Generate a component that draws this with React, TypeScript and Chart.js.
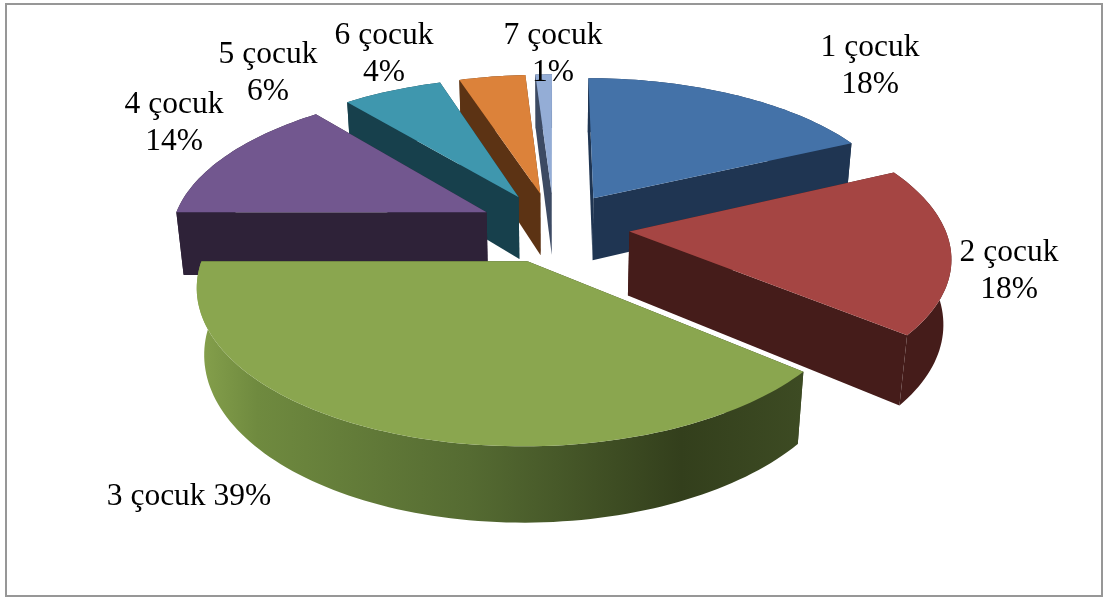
import React, { useEffect, useRef } from "react";
import { Chart, registerables } from "chart.js";

Chart.register(...registerables);

const categories = ["1 çocuk", "2 çocuk", "3 çocuk", "4 çocuk", "5 çocuk", "6 çocuk", "7 çocuk"];
const percentages = [18, 18, 39, 14, 6, 4, 1];
const topColors = ["#4472a8", "#a54543", "#8aa64f", "#72578f", "#3f97ae", "#dc823a", "#94add6"];
const sideColors = ["#1f3552", "#451c1a", "#56692f", "#2e2238", "#17404c", "#5c3314", "#3c4a63"];

// Where each caption sits on the canvas: centre x and first-line baseline.
const captionSpots: [number, number, boolean][] = [
  [870, 56, false],
  [1009, 261, false],
  [189, 505, true],
  [174, 113, false],
  [268, 63, false],
  [384, 44, false],
  [553, 44, false],
];

const W = 1107;
const H = 597;

// Oblique perspective used to lay the flat pie down on a tilted plane.
const view = { cx: 554, cy: 227, rx: 315, ry: 146, depth: 65, a: 0.15, b: 0.02, near: 0.04 };

type P = [number, number];
function project(X: number, Y: number, z: number): P {
  const p = 1 / (1 - view.a * Y + view.b * z);
  const thickness = view.depth * z * (1 + view.near * Y);
  return [view.cx + view.rx * X * p, view.cy + (view.ry * Y + thickness) * p];
}

function trace(ctx: CanvasRenderingContext2D, pts: P[]) {
  ctx.beginPath();
  pts.forEach((q, i) => (i ? ctx.lineTo(q[0], q[1]) : ctx.moveTo(q[0], q[1])));
  ctx.closePath();
}

const pie3d = {
  id: "pie3d",
  beforeDatasetsDraw(chart: any) {
    const { ctx } = chart;
    ctx.save();
    ctx.fillStyle = "#ffffff";
    ctx.fillRect(0, 0, W, H);
    ctx.strokeStyle = "#979797";
    ctx.lineWidth = 2;
    ctx.strokeRect(6, 4, 1096, 592);

    const arcs = chart.getDatasetMeta(0).data;
    const slices = arcs.map((arc: any, i: number) => {
      const R = arc.outerRadius;
      const mid = (arc.startAngle + arc.endAngle) / 2;
      const off = (arc.options.offset || 0) / R;
      const ox = Math.cos(mid) * off;
      const oy = Math.sin(mid) * off;
      const steps = Math.max(6, Math.round((arc.endAngle - arc.startAngle) * 40));
      const rim: [number, number][] = [];
      for (let s = 0; s <= steps; s++) {
        const t = arc.startAngle + ((arc.endAngle - arc.startAngle) * s) / steps;
        rim.push([ox + Math.cos(t), oy + Math.sin(t)]);
      }
      return { i, ox, oy, rim, sortY: oy + Math.sin(mid) * 0.5 };
    });

    // Paint from the back of the tilted plane to the front.
    slices.sort((a: any, b: any) => a.sortY - b.sortY);
    for (const s of slices) {
      const top = s.rim.map((q: [number, number]) => project(q[0], q[1], 0));
      const bot = s.rim.map((q: [number, number]) => project(q[0], q[1], 1));
      const aT = project(s.ox, s.oy, 0);
      const aB = project(s.ox, s.oy, 1);
      const n = top.length - 1;
      const walls = [
        { pts: [aT, top[0], bot[0], aB], key: (aT[1] + top[0][1]) / 2, rim: false },
        { pts: [aT, top[n], bot[n], aB], key: (aT[1] + top[n][1]) / 2, rim: false },
        { pts: [...top, ...[...bot].reverse()], key: top[Math.floor(n / 2)][1], rim: true },
      ].sort((p, q) => p.key - q.key);
      for (const w of walls) {
        trace(ctx, w.pts as P[]);
        if (w.rim && s.i === 2) {
          // The big front slice catches light on its left flank.
          const g = ctx.createLinearGradient(197, 0, 802, 0);
          g.addColorStop(0, "#86a14c");
          g.addColorStop(0.1, "#6f8a3f");
          g.addColorStop(0.45, "#556b32");
          g.addColorStop(0.8, "#333f1c");
          g.addColorStop(1, "#3d4b23");
          ctx.fillStyle = g;
        } else {
          ctx.fillStyle = s.i === 2 ? "#333f1d" : sideColors[s.i];
        }
        ctx.fill();
      }
      trace(ctx, [aT, ...top]);
      ctx.fillStyle = topColors[s.i];
      ctx.fill();
    }
    ctx.restore();
    return false;
  },
  afterDraw(chart: any) {
    const { ctx } = chart;
    ctx.save();
    ctx.fillStyle = "#000000";
    ctx.font = '31.5px "Liberation Serif"';
    ctx.textAlign = "center";
    ctx.textBaseline = "alphabetic";
    categories.forEach((c, i) => {
      const [x, y, oneLine] = captionSpots[i];
      if (oneLine) {
        ctx.fillText(`${c} ${percentages[i]}%`, x, y);
      } else {
        ctx.fillText(c, x, y);
        ctx.fillText(`${percentages[i]}%`, x, y + 37);
      }
    });
    ctx.restore();
  },
};

export default function App() {
  const ref = useRef<HTMLCanvasElement>(null);
  useEffect(() => {
    document.body.style.margin = "0";
    const chart = new Chart(ref.current!, {
      type: "pie",
      data: {
        labels: categories,
        datasets: [{ data: percentages, backgroundColor: topColors, offset: 64, borderWidth: 0 }],
      },
      options: {
        animation: false,
        responsive: false,
        plugins: { legend: { display: false }, tooltip: { enabled: false } },
      },
      plugins: [pie3d],
    } as any);
    return () => chart.destroy();
  }, []);
  return <canvas ref={ref} width={W} height={H} style={{ display: "block" }} />;
}
